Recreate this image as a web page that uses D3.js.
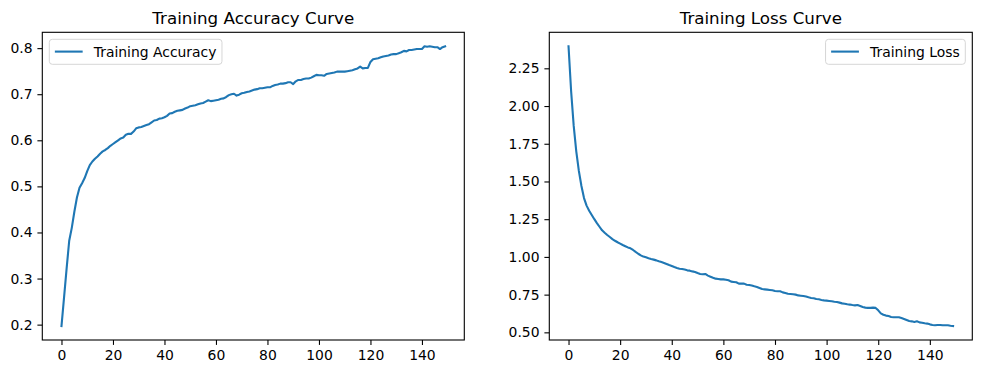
<!DOCTYPE html>
<html>
    <head>
        <meta charset="utf-8" />
        <script src="https://d3js.org/d3.v7.min.js"></script>
        <style>
            body {
                margin: 0;
                background: #fff;
            }

            text {
                font-family: "DejaVu Sans", sans-serif;
                fill: #000;
            }

            .frame {
                fill: none;
                stroke: #000;
                stroke-width: 1.1px;
            }

            .curve {
                fill: none;
                stroke: #1f77b4;
                stroke-width: 2.1px;
                stroke-linejoin: round;
                stroke-linecap: square;
            }

            .legend-box {
                fill: #fff;
                fill-opacity: 0.8;
                stroke: #d6d6d6;
                stroke-width: 1px;
            }
        </style>
    </head>
    <body>
        <svg id="chart" width="981" height="374"></svg>
        <script>
            // values, one per epoch
            var accuracy = [
                0.197, 0.259, 0.322, 0.382, 0.410, 0.445, 0.476, 0.497, 0.507, 0.518,
                0.533, 0.546, 0.554, 0.560, 0.565, 0.571, 0.576, 0.579, 0.583, 0.588,
                0.592, 0.596, 0.600, 0.604, 0.606, 0.612, 0.614, 0.614, 0.619, 0.626,
                0.628, 0.629, 0.631, 0.633, 0.635, 0.639, 0.643, 0.644, 0.647, 0.648,
                0.650, 0.653, 0.658, 0.659, 0.662, 0.664, 0.665, 0.666, 0.669, 0.671,
                0.674, 0.675, 0.676, 0.678, 0.680, 0.681, 0.684, 0.687, 0.685, 0.686,
                0.687, 0.688, 0.690, 0.691, 0.694, 0.698, 0.700, 0.701, 0.697, 0.699,
                0.702, 0.703, 0.705, 0.706, 0.708, 0.710, 0.711, 0.713, 0.713, 0.714,
                0.715, 0.715, 0.718, 0.720, 0.721, 0.723, 0.723, 0.724, 0.726, 0.726,
                0.722, 0.728, 0.731, 0.731, 0.733, 0.734, 0.734, 0.736, 0.739, 0.742,
                0.741, 0.741, 0.740, 0.744, 0.745, 0.746, 0.747, 0.749, 0.749, 0.749,
                0.749, 0.750, 0.751, 0.752, 0.754, 0.756, 0.760, 0.756, 0.757, 0.757,
                0.770, 0.776, 0.777, 0.778, 0.780, 0.782, 0.783, 0.784, 0.786, 0.787,
                0.787, 0.789, 0.791, 0.794, 0.793, 0.796, 0.796, 0.797, 0.798, 0.798,
                0.798, 0.804, 0.803, 0.804, 0.803, 0.802, 0.802, 0.798, 0.802, 0.804
            ];

            var loss = [
                2.396, 2.100, 1.870, 1.700, 1.570, 1.470, 1.390, 1.340, 1.306, 1.278,
                1.250, 1.224, 1.200, 1.176, 1.160, 1.145, 1.132, 1.118, 1.107, 1.097,
                1.088, 1.079, 1.071, 1.063, 1.057, 1.046, 1.033, 1.021, 1.010, 1.002,
                0.997, 0.991, 0.986, 0.982, 0.977, 0.971, 0.966, 0.960, 0.953, 0.946,
                0.940, 0.933, 0.927, 0.922, 0.920, 0.916, 0.911, 0.909, 0.904, 0.900,
                0.893, 0.887, 0.885, 0.887, 0.876, 0.869, 0.862, 0.856, 0.854, 0.851,
                0.851, 0.849, 0.845, 0.836, 0.834, 0.832, 0.823, 0.823, 0.823, 0.816,
                0.814, 0.810, 0.805, 0.801, 0.794, 0.787, 0.785, 0.783, 0.781, 0.779,
                0.774, 0.772, 0.772, 0.765, 0.761, 0.756, 0.754, 0.752, 0.750, 0.745,
                0.743, 0.741, 0.737, 0.732, 0.728, 0.726, 0.721, 0.719, 0.715, 0.712,
                0.710, 0.708, 0.706, 0.703, 0.701, 0.697, 0.692, 0.690, 0.686, 0.684,
                0.681, 0.679, 0.681, 0.675, 0.668, 0.664, 0.662, 0.662, 0.664, 0.662,
                0.646, 0.626, 0.617, 0.611, 0.608, 0.602, 0.600, 0.600, 0.600, 0.595,
                0.589, 0.582, 0.575, 0.573, 0.569, 0.573, 0.566, 0.564, 0.560, 0.558,
                0.553, 0.549, 0.547, 0.549, 0.549, 0.547, 0.547, 0.547, 0.544, 0.542
            ];

            var epochTicks = [0, 20, 40, 60, 80, 100, 120, 140];
            var accuracyTicks = [0.2, 0.3, 0.4, 0.5, 0.6, 0.7, 0.8];
            var lossTicks = [0.5, 0.75, 1.0, 1.25, 1.5, 1.75, 2.0, 2.25];

            var svg = d3.select("#chart");
            var fontSize = 13.9;
            var tickLen = 4.9;

            // pad a domain by 5% each side, like matplotlib does
            function padded(ext) {
                var m = (ext[1] - ext[0]) * 0.05;
                return [ext[0] - m, ext[1] + m];
            }

            function drawPanel(opts) {
                var left = opts.left, right = opts.right, top = 32.3, bottom = 340;
                var values = opts.values;

                var x = d3.scaleLinear()
                    .domain(padded([0, values.length - 1]))
                    .range([left, right]);
                var y = d3.scaleLinear()
                    .domain(padded(d3.extent(values)))
                    .range([bottom, top]);

                var g = svg.append("g");

                var xAxis = g.append("g")
                    .attr("transform", "translate(0," + bottom + ")")
                    .call(d3.axisBottom(x).tickValues(epochTicks).tickSizeOuter(0)
                        .tickSize(tickLen).tickPadding(tickLen).tickFormat(d3.format("d")));
                var yAxis = g.append("g")
                    .attr("transform", "translate(" + left + ",0)")
                    .call(d3.axisLeft(y).tickValues(opts.ticks).tickSizeOuter(0)
                        .tickSize(tickLen).tickPadding(tickLen).tickFormat(d3.format(opts.fmt)));

                [xAxis, yAxis].forEach(function(a) {
                    a.select(".domain").remove();
                    a.selectAll(".tick line").attr("stroke", "#000").attr("stroke-width", 1.1);
                    a.selectAll(".tick text")
                        .attr("font-family", "DejaVu Sans")
                        .attr("font-size", fontSize)
                        .attr("fill", "#000");
                });
                xAxis.selectAll(".tick text").attr("dy", "0.76em");

                var line = d3.line()
                    .x(function(d, i) { return x(i); })
                    .y(function(d) { return y(d); });

                g.append("path")
                    .datum(values)
                    .attr("class", "curve")
                    .attr("d", line);

                g.append("rect")
                    .attr("class", "frame")
                    .attr("x", left)
                    .attr("y", top)
                    .attr("width", right - left)
                    .attr("height", bottom - top);

                g.append("text")
                    .attr("x", (left + right) / 2)
                    .attr("y", top - 8.3)
                    .attr("text-anchor", "middle")
                    .attr("font-size", 16.7)
                    .text(opts.title);

                // legend
                var leg = g.append("g");
                var box = leg.append("rect").attr("class", "legend-box").attr("rx", 3);
                var label = leg.append("text")
                    .attr("font-size", fontSize)
                    .text(opts.label);
                var tw = label.node().getComputedTextLength();
                var pad = 0.4 * fontSize, handle = 2 * fontSize, gap = 0.8 * fontSize;
                var w = pad + handle + gap + tw + pad, h = 25;
                var lx = opts.legendRight ? right - 7 - w : left + 7;
                var ly = top + 7;
                box.attr("x", lx).attr("y", ly).attr("width", w).attr("height", h);
                leg.append("line")
                    .attr("x1", lx + pad).attr("x2", lx + pad + handle)
                    .attr("y1", ly + 12.3).attr("y2", ly + 12.3)
                    .attr("stroke", "#1f77b4").attr("stroke-width", 2.1);
                label.attr("x", lx + pad + handle + gap).attr("y", ly + 17.3);
            }

            drawPanel({
                left: 42.3, right: 464.3, values: accuracy, ticks: accuracyTicks, fmt: ".1f",
                title: "Training Accuracy Curve", label: "Training Accuracy", legendRight: false
            });
            drawPanel({
                left: 549.3, right: 972.3, values: loss, ticks: lossTicks, fmt: ".2f",
                title: "Training Loss Curve", label: "Training Loss", legendRight: true
            });
        </script>
    </body>
</html>
